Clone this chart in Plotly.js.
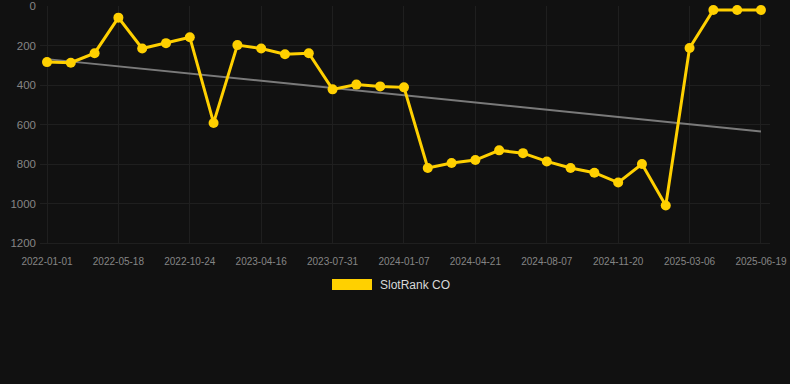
<!DOCTYPE html>
<html>
<head>
<meta charset="utf-8">
<script src="https://cdn.plot.ly/plotly-3.0.1.min.js"></script>
<style>
  html, body { margin: 0; padding: 0; background: #111111; }
  #chart { width: 790px; height: 384px; }
</style>
</head>
<body>
<div id="chart"></div>
<script>
// Categories (dates), one per point
const dates = [
  "2022-01-01", "2022-02-16", "2022-04-03", "2022-05-18", "2022-07-10", "2022-09-01",
  "2022-10-24", "2022-12-21", "2023-02-17", "2023-04-16", "2023-05-21", "2023-06-26",
  "2023-07-31", "2023-09-23", "2023-11-15", "2024-01-07", "2024-02-11", "2024-03-17",
  "2024-04-21", "2024-05-27", "2024-07-02", "2024-08-07", "2024-09-11", "2024-10-16",
  "2024-11-20", "2024-12-25", "2025-01-29", "2025-03-06", "2025-04-10", "2025-05-15",
  "2025-06-19"
];
// SlotRank CO rank values
const rankValues = [
  284, 287, 239, 59, 215, 188,
  158, 592, 198, 215, 244, 239,
  422, 398, 407, 412, 820, 795,
  780, 731, 745, 787, 820, 844,
  894, 800, 1010, 213, 20, 20,
  20
];
// Trend line endpoints (first and last date)
const trendDates = ["2022-01-01", "2025-06-19"];
const trendValues = [269, 635];
// Tick labels shown on the x axis
const xTickLabels = [
  "2022-01-01", "2022-05-18", "2022-10-24", "2023-04-16", "2023-07-31", "2024-01-07",
  "2024-04-21", "2024-08-07", "2024-11-20", "2025-03-06", "2025-06-19"
];
const yTickVals = [0, 200, 400, 600, 800, 1000, 1200];
const seriesName = "SlotRank CO";

const L = 40, R = 20, T = 6, B = 141;
const W = 790, H = 384;
const plotW = W - L - R, plotH = H - T - B;
const px2x = px => (px - L) / plotW;
const py2y = py => (H - B - py) / plotH;

const traces = [
  {
    x: trendDates, y: trendValues, type: "scatter", mode: "lines",
    line: { color: "#7a7a7a", width: 2 },
    hoverinfo: "skip", showlegend: false
  },
  {
    x: dates, y: rankValues, type: "scatter", mode: "lines+markers",
    name: seriesName,
    line: { color: "#ffd000", width: 3 },
    marker: { color: "#ffd000", size: 10 },
    cliponaxis: false,
    showlegend: false
  }
];

const layout = {
  width: W, height: H,
  paper_bgcolor: "#111111", plot_bgcolor: "#111111",
  margin: { l: L, r: R, t: T, b: B, pad: 0 },
  font: { family: "Liberation Sans, Arial, sans-serif", color: "#858585" },
  showlegend: false,
  xaxis: {
    type: "category",
    categoryorder: "array", categoryarray: dates,
    range: [-0.294, 30.38],
    tickmode: "array", tickvals: xTickLabels, ticktext: xTickLabels,
    tickfont: { size: 10, color: "#858585" },
    showgrid: true, gridcolor: "#1f1f1f", gridwidth: 1,
    zeroline: false, showline: true, linecolor: "#1f1f1f", linewidth: 1,
    mirror: false, ticks: "",
    ticklabelstandoff: 9
  },
  yaxis: {
    range: [1200, 0],
    tickmode: "array", tickvals: yTickVals,
    tickfont: { size: 11.5, color: "#858585" },
    showgrid: true, gridcolor: "#1f1f1f", gridwidth: 1,
    zeroline: false, showline: false, ticks: "",
    ticklabelstandoff: 3
  },
  shapes: [
    {
      type: "rect", xref: "paper", yref: "paper",
      x0: px2x(332), x1: px2x(372), y0: py2y(290), y1: py2y(279),
      fillcolor: "#ffd000", line: { width: 0 }
    }
  ],
  annotations: [
    {
      xref: "paper", yref: "paper", x: px2x(378), y: py2y(285),
      xanchor: "left", yanchor: "middle", showarrow: false,
      text: seriesName, font: { size: 12, color: "#d8d8d8" }
    }
  ]
};

Plotly.newPlot("chart", traces, layout, { displayModeBar: false, staticPlot: true });
</script>
</body>
</html>
